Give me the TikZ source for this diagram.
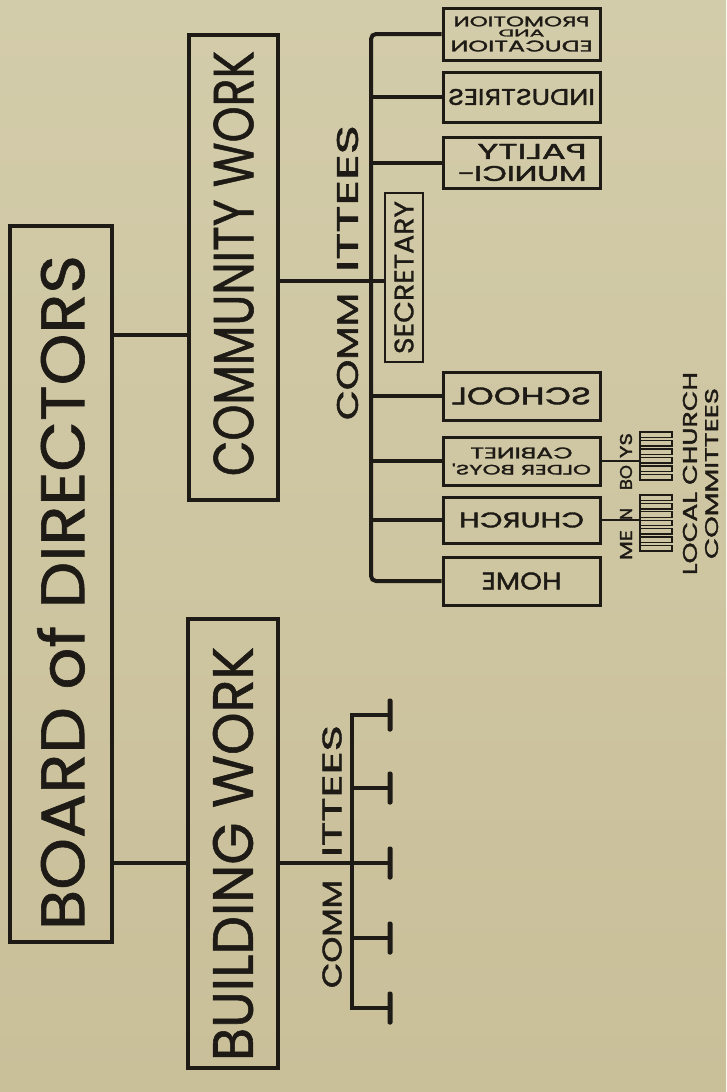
\documentclass[tikz,border=0pt]{standalone}
\usepackage{fontspec}
\setmainfont{Poppins}
\newfontfamily\heavy{Poppins}[FakeBold=1.6]
\newfontfamily\medw{Poppins}[FakeBold=1.0]
\usepackage{graphicx}
\definecolor{ink}{RGB}{30,27,22}
\definecolor{papertop}{RGB}{211,204,170}
\definecolor{paperbot}{RGB}{201,191,153}
\newcommand\fitt[3]{\resizebox{#1pt}{#2pt}{#3}}
\newcommand\stackc[1]{\vbox{\offinterlineskip\halign{\hfil##\hfil\cr#1\crcr}}}
\newcommand\stackl[1]{\vbox{\offinterlineskip\halign{##\hfil\cr#1\crcr}}}
\newcommand\lgap[1]{\noalign{\kern#1pt}}
\begin{document}
\begin{tikzpicture}[x=1pt,y=-1pt,
  mainbox/.style={draw=ink, line width=3.6pt, inner sep=0pt, text=ink, font=\medw},
  rbox/.style={draw=ink, line width=3pt, inner sep=0pt, text=ink, font=\heavy},
  sbox/.style={draw=ink, line width=2.4pt, inner sep=0pt, text=ink, font=\medw},
  conn/.style={draw=ink, line width=4pt},
  thinl/.style={draw=ink, line width=1.3pt},
  txt/.style={inner sep=0pt, text=ink, font=\heavy},
  tbar/.style={fill=ink, inner sep=0pt, minimum width=5pt, minimum height=33pt, rounded corners=2pt},
  geom/.style n args={4}{minimum width={(#3-#1)*1pt}, minimum height={(#4-#2)*1pt}, at={({(#1+#3)/2},{(#2+#4)/2})}}]

\shade[top color=papertop, bottom color=paperbot] (0,0) rectangle (726,1092);
\useasboundingbox (0,0) rectangle (726,1092);

% main boxes
\node[mainbox, geom={10}{226}{112}{942}] (board)
  {\rotatebox{90}{\hspace*{12pt}\fitt{675}{47}{BOARD of DIRECTORS}\hspace*{29pt}}};
\node[mainbox, geom={189}{35}{278}{500}] (community)
  {\rotatebox{90}{\hspace*{24pt}\fitt{425}{40}{COMMUNITY WORK}\hspace*{16pt}}};
\node[mainbox, geom={188}{619}{278}{1068}] (building)
  {\rotatebox{90}{\hspace*{7pt}\fitt{414}{40}{BUILDING WORK}\hspace*{28pt}}};

% right column boxes (mirrored labels)
\node[rbox, geom={443}{8}{600}{60}] (edu)
  {\reflectbox{\stackc{\fitt{136}{10}{PROMOTION}\cr\lgap{3}\fitt{46}{7}{AND}\cr\lgap{4}\fitt{142}{11}{EDUCATION}}}};
\node[rbox, geom={443}{72}{600}{122}] (ind)
  {\reflectbox{\fitt{147}{16}{INDUSTRIES}}};
\node[rbox, geom={443}{137}{600}{188}] (mun)
  {\reflectbox{\stackl{\fitt{109}{15}{PALITY}\cr\lgap{7}\fitt{130}{15}{MUNICI-}}}};
\node[sbox, geom={385}{193}{423}{362}] (sec)
  {\rotatebox{90}{\fitt{153}{19}{SECRETARY}}};
\node[rbox, geom={443}{372}{600}{420}] (school)
  {\reflectbox{\fitt{139}{17}{SCHOOL}}};
\node[rbox, geom={443}{437}{600}{485}] (older)
  {\reflectbox{\stackc{\fitt{102}{11}{CABINET}\cr\lgap{5}\fitt{139}{11}{OLDER BOYS'}}}};
\node[rbox, geom={443}{497}{600}{543}] (church)
  {\reflectbox{\fitt{125}{15}{CHURCH}}};
\node[rbox, geom={443}{557}{600}{605}] (home)
  {\reflectbox{\fitt{80}{17}{HOME}}};

% helper coordinates
\coordinate (c1) at (0,335);
\coordinate (c2) at (0,863);
\coordinate (c0) at (0,281);
\coordinate (sp) at (371,0);
\coordinate (bs) at (352,0);
\coordinate (lc) at (640,0);

% board connectors
\draw[conn] (board.east |- c1) -- (community.west |- c1);
\draw[conn] (board.east |- c2) -- (building.west |- c2);

% community committees
\draw[conn] (community.east |- c0) -- (sec.west |- c0);
\draw[conn, rounded corners=5pt] (edu.west) -| (sp |- home.west) -- (home.west);
\foreach \b in {ind,mun,school,older,church}
  \draw[conn] (sp |- \b.west) -- (\b.west);
\node[txt] (ccom) at (347.5,272.5)
  {\rotatebox{90}{\fitt{127}{21}{COMM}\hspace*{21pt}\fitt{147}{21}{ITTEES}}};

% building committees
\node[tbar] (t1) at (390,715) {};
\node[tbar] (t2) at (390,788) {};
\node[tbar] (t3) at (390,863) {};
\node[tbar] (t4) at (390,938) {};
\node[tbar] (t5) at (390,1008) {};
\draw[conn] (t1.center) -| (bs |- t5.center) -- (t5.center);
\draw[conn] (building.east |- c2) -- (t3.center);
\draw[conn] (bs |- t2.center) -- (t2.center);
\draw[conn] (bs |- t4.center) -- (t4.center);
\node[txt] (bcom) at (332,856.5)
  {\rotatebox{90}{\fitt{108}{19}{COMM}\hspace*{23pt}\fitt{132}{19}{ITTEES}}};

% local church committees
\draw[thinl] (older.east) -- (lc |- older.east);
\draw[thinl] (church.east) -- (lc |- church.east);
\foreach \i in {0,...,5}
  \draw[thinl] (640,{432+\i*8.5}) rectangle (672,{437.5+\i*8.5});
\draw[thinl] (640,432) -- (640,480);
\foreach \i in {0,...,6}
  \draw[thinl] (640,{495+\i*8.4}) rectangle (672,{500.5+\i*8.4});
\draw[thinl] (640,495) -- (640,551);
\node[txt] (boys) at (626,461.5)
  {\rotatebox{90}{\fitt{25}{12}{BO}\hspace*{7pt}\fitt{25}{12}{YS}}};
\node[txt] (men) at (626,534)
  {\rotatebox{90}{\fitt{30}{12}{ME}\hspace*{10pt}\fitt{12}{12}{N}}};
\node[txt] (local) at (700.5,473.5)
  {\rotatebox{90}{\stackc{\fitt{203}{14}{LOCAL CHURCH}\cr\lgap{8}\fitt{171}{13}{COMMITTEES}}}};
\end{tikzpicture}
\end{document}
